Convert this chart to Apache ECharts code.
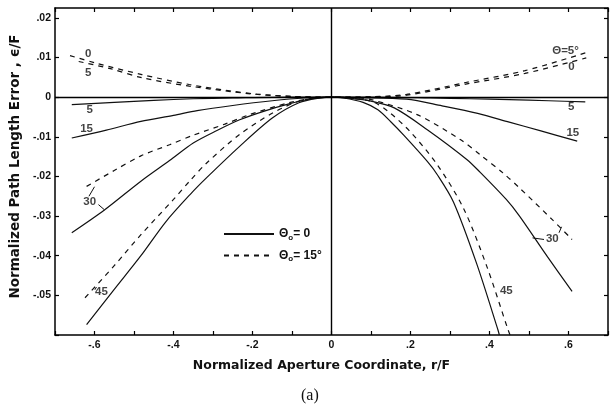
<!DOCTYPE html>
<html><head><meta charset="utf-8">
<script src="https://cdn.jsdelivr.net/npm/echarts@6/dist/echarts.min.js"></script>
<style>html,body{margin:0;padding:0;background:#fff}#c{width:611px;height:408px}</style>
</head><body><div id="c"></div>
<script>
// Θo = 0 (solid) curves, [r/F, ε/F]
const solid5 = [[-0.6575,-0.0019],[-0.55,-0.0013],[-0.45,-0.0008],[-0.35,-0.0004],[-0.25,-0.0002],[-0.1,0],[0,0],[0.1,0],[0.25,-0.0002],[0.35,-0.0004],[0.45,-0.0006],[0.55,-0.0009],[0.6425,-0.0012]];
const solid15 = [[-0.6575,-0.0103],[-0.57,-0.0083],[-0.4825,-0.0061],[-0.40,-0.0046],[-0.34,-0.0034],[-0.25,-0.0021],[-0.15,-0.0009],[-0.07,-0.0002],[0,0],[0.07,-0.0001],[0.19,-0.0005],[0.28,-0.0022],[0.37,-0.0041],[0.45,-0.0063],[0.53,-0.0085],[0.622,-0.0111]];
const solid30 = [[-0.6575,-0.0342],[-0.574,-0.0284],[-0.4825,-0.0212],[-0.41,-0.0160],[-0.349,-0.0115],[-0.29,-0.0084],[-0.2325,-0.0057],[-0.17,-0.0035],[-0.1075,-0.0017],[-0.05,-0.0004],[0,0],[0.05,-0.0003],[0.1,-0.0010],[0.159,-0.0027],[0.2425,-0.0082],[0.3425,-0.0157],[0.376,-0.0189],[0.4425,-0.0258],[0.476,-0.0300],[0.547,-0.0403],[0.609,-0.049]];
const solid45 = [[-0.62,-0.0574],[-0.55,-0.0485],[-0.4825,-0.0400],[-0.42,-0.0315],[-0.3575,-0.0245],[-0.316,-0.0203],[-0.2325,-0.0124],[-0.149,-0.0052],[-0.0825,-0.0014],[-0.03,-0.0002],[0,0],[0.03,-0.0002],[0.08,-0.0013],[0.1175,-0.0032],[0.15,-0.0062],[0.184,-0.0097],[0.2425,-0.0162],[0.2675,-0.0195],[0.309,-0.0265],[0.3675,-0.0420],[0.4217,-0.0588],[0.425,-0.0600]];
// Θo = 15° (dashed) curves
const dash0 = [[-0.662,0.0105],[-0.6,0.0087],[-0.48,0.0057],[-0.36,0.0032],[-0.25,0.0015],[-0.19,0.0008],[-0.1,0.0002],[0,0],[0.1,0.0001],[0.19,0.0005],[0.34,0.0033],[0.49,0.0060],[0.645,0.0099]];
const dash5 = [[-0.64,0.0090],[-0.56,0.0072],[-0.48,0.0049],[-0.36,0.0028],[-0.2,0.0008],[-0.1,0.0002],[0,0],[0.1,0.0001],[0.19,0.0007],[0.34,0.0037],[0.49,0.0067],[0.647,0.0113]];
const dash30 = [[-0.62,-0.0225],[-0.55,-0.0185],[-0.4825,-0.0148],[-0.41,-0.0120],[-0.35,-0.0096],[-0.27,-0.0068],[-0.2075,-0.0044],[-0.1075,-0.0014],[-0.05,-0.0003],[0,0],[0.05,-0.0001],[0.1,-0.0006],[0.2167,-0.0044],[0.326,-0.0107],[0.376,-0.0145],[0.434,-0.0191],[0.476,-0.0229],[0.559,-0.0309],[0.609,-0.0359]];
const dash45 = [[-0.624,-0.0506],[-0.55,-0.0425],[-0.4825,-0.0347],[-0.40,-0.0258],[-0.3575,-0.0210],[-0.316,-0.0166],[-0.2325,-0.0094],[-0.149,-0.0040],[-0.0825,-0.0010],[-0.03,-0.0001],[0,0],[0.03,-0.0001],[0.1,-0.0010],[0.1425,-0.0035],[0.2,-0.0088],[0.2675,-0.0170],[0.334,-0.0280],[0.3925,-0.0425],[0.4467,-0.0586],[0.452,-0.0600]];
// curve labels [x, y, text]
const curveLabels = [[-0.616,0.0110,'0'],[-0.616,0.0061,'5'],[-0.612,-0.0031,'5'],[-0.62,-0.0080,'15'],[-0.612,-0.0263,'30'],[-0.5825,-0.0492,'45'],
  [0.5925,0.0118,'Θ=5°'],[0.6075,0.0076,'0'],[0.607,-0.0025,'5'],[0.611,-0.0090,'15'],[0.559,-0.0358,'30'],[0.4425,-0.0488,'45']];
// leader ticks
const leaders = [[[-0.59,-0.0271],[-0.575,-0.0284]],[[-0.614,-0.0250],[-0.600,-0.0226]],[[-0.599,-0.0486],[-0.595,-0.0479]],
  [[0.509,-0.0355],[0.538,-0.0359]],[[0.576,-0.0342],[0.5825,-0.0327]]];
const xTicks = {min:-0.7,max:0.7,step:0.1};
const yTicks = {min:-0.06,max:0.0225,step:0.01};

const chart = echarts.init(document.getElementById('c'));
const FONT = 'Liberation Sans';
const TFONT = 'DejaVu Sans';
function fmtX(v){const k=Math.round(v*10); if(k%2!==0||Math.abs(k)>6) return ''; if(k===0) return '0'; return (k<0?'-':'')+'.'+Math.abs(k);}
function fmtY(v){const k=Math.round(v*100); if(k<-5||k>2) return ''; if(k===0) return '0'; return (k<0?'-':'')+'.0'+Math.abs(k);}
function curve(name,data,dashed){return {type:'line',name:name,data:data,symbol:'none',smooth:0.3,clip:true,
  lineStyle:{color:'#111',width:1.2,type:dashed?[5,5]:'solid'},itemStyle:{color:'#111'},z:3,silent:true};}
const series = [
  curve('o0',solid5,false),curve('o0',solid15,false),curve('o0',solid30,false),curve('o0',solid45,false),
  curve('o15',dash0,true),curve('o15',dash5,true),curve('o15',dash30,true),curve('o15',dash45,true),
  {type:'line',name:'axes',data:[],symbol:'none',silent:true,
   markLine:{symbol:'none',silent:true,label:{show:false},lineStyle:{color:'#000',width:1.4,type:'solid'},
     data:[{xAxis:0},{yAxis:0}]}},
  {type:'scatter',name:'lbl',data:curveLabels,symbolSize:1,itemStyle:{color:'rgba(0,0,0,0)'},silent:true,z:5,
   label:{show:true,position:'inside',formatter:p=>p.value[2],color:'#111',fontFamily:FONT,fontWeight:'bold',fontSize:11.5}}
];
leaders.forEach(l=>series.push({type:'line',name:'ldr',data:l,symbol:'none',silent:true,lineStyle:{color:'#111',width:1}}));
const axisLine = {onZero:false,lineStyle:{color:'#000',width:1.5}};
const axisTick = {inside:true,length:4,lineStyle:{color:'#000',width:1.2}};

chart.setOption({
  animation:false,
  backgroundColor:'#fff',
  grid:{left:53,top:8,width:560,height:327},
  legend:{data:['o0','o15'],orient:'vertical',left:223,top:228,padding:0,itemWidth:50,itemHeight:14,itemGap:8,
    itemStyle:{opacity:0},
    formatter:n=>n==='o0'?'{t|Θ}{s|o}{t|= 0}':'{t|Θ}{s|o}{t|= 15°}',
    textStyle:{color:'#111',rich:{t:{fontFamily:FONT,fontWeight:'bold',fontSize:12,color:'#111'},
      s:{fontFamily:FONT,fontWeight:'bold',fontSize:8,color:'#111',padding:[7,0,0,0]}}}},
  xAxis:[{type:'value',min:xTicks.min,max:xTicks.max,interval:xTicks.step,position:'bottom',
     name:'Normalized Aperture Coordinate, r/F',nameLocation:'middle',nameGap:24,
     nameTextStyle:{fontFamily:TFONT,fontWeight:'bold',fontSize:12.5,color:'#111',padding:[0,20,0,0]},
     axisLine:axisLine,axisTick:axisTick,
     axisLabel:{formatter:fmtX,color:'#111',fontFamily:FONT,fontWeight:'bold',fontSize:10.5,margin:5,showMinLabel:true,showMaxLabel:true},
     splitLine:{show:false}},
    {type:'value',min:xTicks.min,max:xTicks.max,interval:xTicks.step,position:'top',
     axisLine:axisLine,axisTick:axisTick,axisLabel:{show:false},splitLine:{show:false}}],
  yAxis:[{type:'value',min:yTicks.min,max:yTicks.max,interval:yTicks.step,position:'left',
     name:'Normalized Path Length Error , ϵ/F',nameLocation:'middle',nameGap:26,nameRotate:90,
     nameTextStyle:{fontFamily:TFONT,fontWeight:'bold',fontSize:13.5,color:'#111',padding:[0,0,0,10]},
     axisLine:axisLine,axisTick:axisTick,
     axisLabel:{formatter:fmtY,color:'#111',fontFamily:FONT,fontWeight:'bold',fontSize:10.5,margin:4,showMaxLabel:false},
     splitLine:{show:false}},
    {type:'value',min:yTicks.min,max:yTicks.max,interval:yTicks.step,position:'right',
     axisLine:axisLine,axisTick:axisTick,axisLabel:{show:false},splitLine:{show:false}}],
  graphic:[{type:'text',left:301,top:388,style:{text:'(a)',font:'16px "Liberation Serif"',fill:'#111'}}],
  series:series
});
</script></body></html>
